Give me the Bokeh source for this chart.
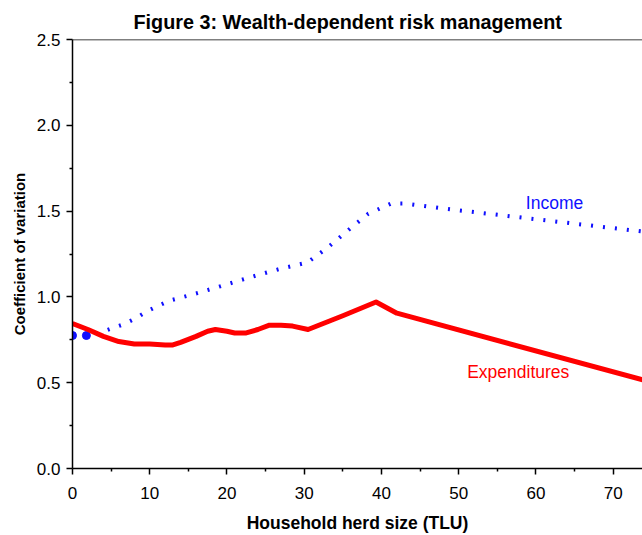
from bokeh.plotting import figure
from bokeh.models import (Range1d, FixedTicker, NumeralTickFormatter, Span, Label)
from bokeh.embed import file_html
from bokeh.resources import INLINE

# ---- data ----
exp_x = [0, 2, 4, 6, 8, 10, 12, 13, 14, 16, 17.5, 18.5, 20, 21, 22.5, 24, 25.5, 27, 28.5, 30.5, 35, 39.3, 42, 74]
exp_y = [0.845, 0.81, 0.77, 0.74, 0.725, 0.725, 0.72, 0.72, 0.735, 0.77, 0.80, 0.81, 0.80, 0.79, 0.79, 0.81, 0.835, 0.835, 0.83, 0.81, 0.89, 0.97, 0.905, 0.515]

inc_x = [0, 1.8, 3.5, 5, 6.6, 8.2, 9.6, 11.2, 12.7, 16, 19, 23.8, 27, 30.4, 33.1, 36, 38.3, 41.3, 43, 48, 74]
inc_y = [0.775, 0.775, 0.79, 0.815, 0.84, 0.875, 0.915, 0.95, 0.98, 1.02, 1.06, 1.125, 1.165, 1.2, 1.29, 1.40, 1.485, 1.545, 1.545, 1.515, 1.38]

x_ticks = [0, 10, 20, 30, 40, 50, 60, 70]
y_ticks = [0.0, 0.5, 1.0, 1.5, 2.0, 2.5]

FONT = "Liberation Sans"

p = figure(width=642, height=535, output_backend="svg", toolbar_location=None,
           x_range=Range1d(0, 73.8), y_range=Range1d(0, 2.5),
           min_border_left=72, min_border_right=0, min_border_top=39, min_border_bottom=67,
           title="Figure 3: Wealth-dependent risk management")
p.outline_line_color = None
p.grid.visible = False
p.background_fill_color = "white"
p.border_fill_color = "white"

p.title.text_font = FONT
p.title.text_font_size = "19.8px"
p.title.text_font_style = "bold"
p.title.align = "left"
p.title.offset = 61
p.title.standoff = 14
p.title.text_color = "black"

for ax in (p.xaxis[0], p.yaxis[0]):
    ax.axis_line_width = 1.5
    ax.axis_line_color = "black"
    ax.major_tick_line_width = 1.5
    ax.minor_tick_line_width = 1.5
    ax.major_tick_in = 0
    ax.major_tick_out = 6
    ax.minor_tick_in = 0
    ax.minor_tick_out = 3
    ax.major_label_text_font = FONT
    ax.major_label_text_font_size = "17px"
    ax.major_label_text_color = "black"
    ax.axis_label_text_font = FONT
    ax.axis_label_text_font_style = "bold"
    ax.axis_label_text_color = "black"

p.xaxis.axis_label_text_font_size = "17.5px"
p.yaxis.axis_label_text_font_size = "15px"

p.xaxis.ticker = FixedTicker(ticks=x_ticks, minor_ticks=[v + 5 for v in x_ticks])
p.yaxis.ticker = FixedTicker(ticks=y_ticks, minor_ticks=[v + 0.25 for v in y_ticks[:-1]])
p.yaxis.formatter = NumeralTickFormatter(format="0.0")
p.xaxis.axis_label = "Household herd size (TLU)"
p.yaxis.axis_label = "Coefficient of variation"
p.xaxis.major_label_standoff = 12
p.yaxis.major_label_standoff = 6
p.xaxis.axis_label_standoff = 11
p.yaxis.axis_label_standoff = 6

# top frame line
p.add_layout(Span(location=2.5, dimension="width", line_color="black", line_width=1.5))

p.line(inc_x, inc_y, line_color="#1010ff", line_width=4, line_dash="2 10", line_cap="butt")
p.scatter(inc_x[:2], inc_y[:2], size=8, color="#1010ff")
p.line(exp_x, exp_y, line_color="#ff0000", line_width=5, line_join="round")

p.add_layout(Label(x=58.7, y=1.55, text="Income", text_color="#1010ff",
                   text_font=FONT, text_font_size="17.5px", text_baseline="middle"))
p.add_layout(Label(x=51.1, y=0.56, text="Expenditures", text_color="#ff0000",
                   text_font=FONT, text_font_size="17.5px", text_baseline="middle"))

open("out.html", "w").write(file_html(p, INLINE))
